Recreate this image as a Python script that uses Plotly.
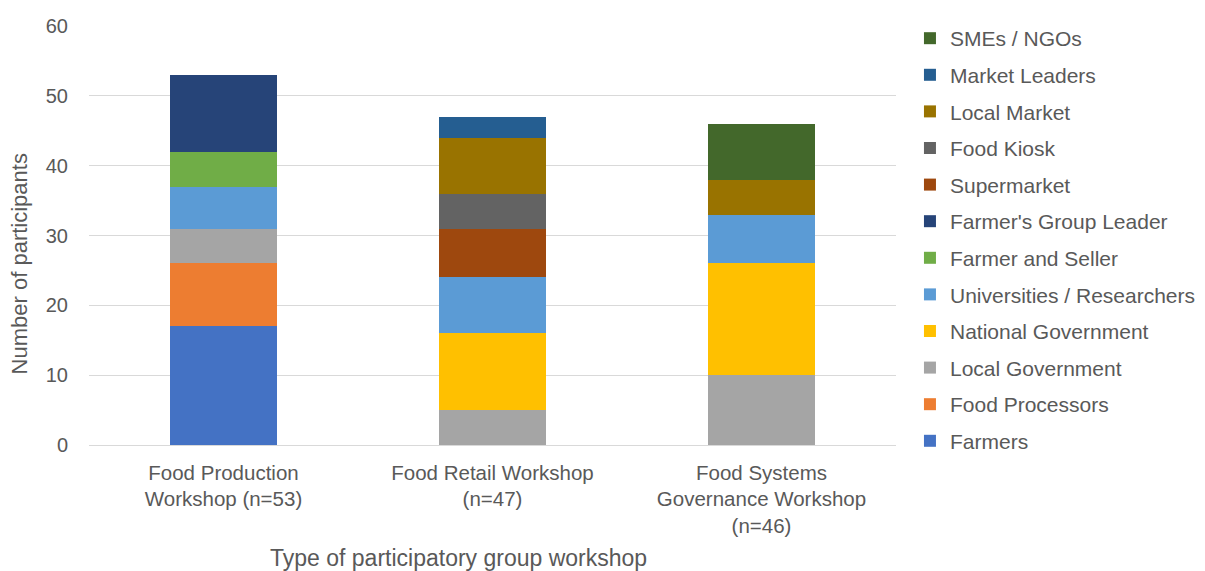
import plotly.graph_objects as go

categories = ["Food Production<br>Workshop (n=53)", "Food Retail Workshop<br>(n=47)",
              "Food Systems<br>Governance Workshop<br>(n=46)"]

series_names = ["Farmers", "Food Processors", "Local Government", "National Government",
                "Universities / Researchers", "Farmer and Seller", "Farmer's Group Leader",
                "Supermarket", "Food Kiosk", "Local Market", "Market Leaders", "SMEs / NGOs"]

farmers = [17, 0, 0]
food_processors = [9, 0, 0]
local_government = [5, 5, 10]
national_government = [0, 11, 16]
universities = [6, 8, 7]
farmer_and_seller = [5, 0, 0]
farmers_group_leader = [11, 0, 0]
supermarket = [0, 7, 0]
food_kiosk = [0, 5, 0]
local_market = [0, 8, 5]
market_leaders = [0, 3, 0]
smes_ngos = [0, 0, 8]

series_values = [farmers, food_processors, local_government, national_government, universities,
                 farmer_and_seller, farmers_group_leader, supermarket, food_kiosk, local_market,
                 market_leaders, smes_ngos]

colors = ["#4472C4", "#ED7D31", "#A5A5A5", "#FFC000", "#5B9BD5", "#70AD47", "#264478",
          "#9E480E", "#636363", "#997300", "#255E91", "#43682B"]

y_ticks = [0, 10, 20, 30, 40, 50, 60]

FONT = "Liberation Sans, Arial, sans-serif"
TXT = "#595959"

fig = go.Figure()
n = len(series_names)
for i, (name, vals, col) in enumerate(zip(series_names, series_values, colors)):
    fig.add_trace(go.Bar(
        x=categories, y=[v if v else None for v in vals], name=name,
        marker=dict(color=col, line=dict(width=0)),
        legendgroup=name, legendrank=n - i,
    ))

fig.update_layout(
    barmode="stack",
    bargap=0.6,
    width=1205, height=571,
    margin=dict(l=89, r=309, t=26, b=126, autoexpand=False),
    plot_bgcolor="white", paper_bgcolor="white",
    font=dict(family=FONT, size=20, color=TXT),
    showlegend=True,
    legend=dict(
        x=1.0173, xanchor="left", y=1.019, yanchor="top",
        traceorder="grouped", tracegroupgap=6.3,
        font=dict(family=FONT, size=21, color=TXT),
        itemwidth=30, maxheight=1.0, bgcolor="rgba(0,0,0,0)",
    ),
    xaxis=dict(showline=True, linecolor="#D9D9D9", linewidth=1, ticks="",
               ticklabelstandoff=9, tickfont=dict(size=20.5, color=TXT)),
    yaxis=dict(range=[0, 60], tickvals=y_ticks, showgrid=True, gridcolor="#D9D9D9",
               gridwidth=1, zeroline=False, ticks="", ticklabelstandoff=20,
               tickfont=dict(size=20, color=TXT)),
    annotations=[
        dict(text="Number of participants", xref="paper", yref="paper", x=-0.085, y=0.432,
             textangle=-90, showarrow=False, xanchor="center", yanchor="middle",
             font=dict(size=22, color=TXT)),
        dict(text="Type of participatory group workshop", x=0.458, xref="paper",
             y=-0.27, yref="paper", showarrow=False, xanchor="center", yanchor="middle",
             font=dict(size=23, color=TXT)),
    ],
)

fig.write_html("out.html")
